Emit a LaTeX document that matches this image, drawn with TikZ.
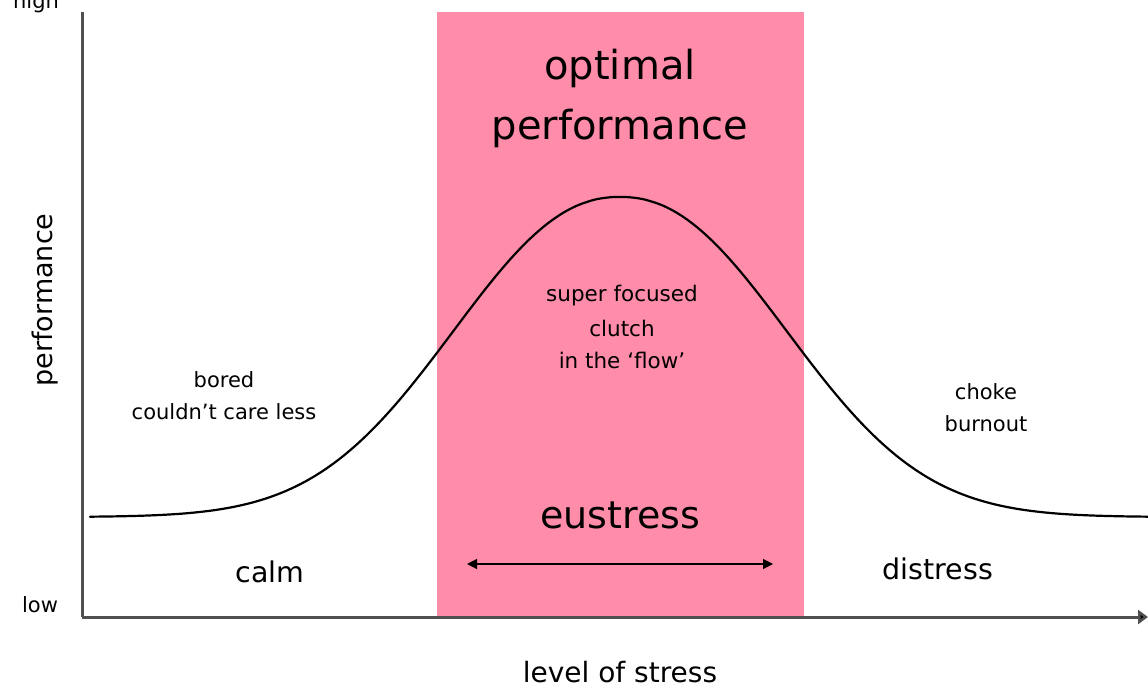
\documentclass[tikz,border=0pt]{standalone}
\usepackage{fontspec}
\setmainfont{DejaVu Sans}
\usetikzlibrary{arrows.meta}
\definecolor{zone}{RGB}{255,140,168}
\definecolor{axisgray}{RGB}{80,80,80}
\tikzset{
  lbl/.style={font=\fontsize{#1}{#1}\selectfont, align=center, inner sep=0pt},
  axisline/.style={draw=axisgray, line width=3pt},
}
\begin{document}
\begin{tikzpicture}[x=1pt,y=-1pt]
\useasboundingbox (0,0) rectangle (1148,688);
% optimal zone
\fill[zone] (437,12) rectangle (804,617);
% curve
\draw[line width=2.2pt, black, line cap=round] plot[domain=90:1148, samples=201, smooth] (\x, {517-320*exp(-((abs(\x-620)+0.01)/220)^2.2)});
% axes
\coordinate (O) at (82,617);
\coordinate (top) at (82,12);
\coordinate (xend) at (1148,617);
\draw[axisline] (top) -- (O);
\draw[axisline, -{Triangle[length=10pt,width=14pt,fill=black]}] (O) -- (xend);
% double arrow
\coordinate (al) at (467,564);
\coordinate (ar) at (773,564);
\draw[line width=1.2pt, {Triangle[length=10pt,width=10pt]}-{Triangle[length=10pt,width=10pt]}] (al) -- (ar);
% texts
\node[lbl=40] (opt) at (620,68) {optimal};
\node[lbl=40] (perf) at (620,128) {performance};
\node[lbl=21.5] (sf) at (622,296) {super focused};
\node[lbl=21.5] (cl) at (622,328) {clutch};
\node[lbl=21.5] (fl) at (622,360) {in the `flow'};
\node[lbl=21] (bo) at (224,380) {bored};
\node[lbl=21] (cc) at (224,412) {couldn't care less};
\node[lbl=21] (ch) at (986,392) {choke};
\node[lbl=21] (bu) at (986,424) {burnout};
\node[lbl=38] (eu) at (620,515) {eustress};
\node[lbl=28.5] (calm) at (270,572) {calm};
\node[lbl=28.5] (dis) at (938,569) {distress};
\node[lbl=21] (low) at (40,605) {low};
\node[lbl=21] (high) at (36,3) {high};
\node[lbl=27, rotate=90] (yl) at (45,300) {performance};
\node[lbl=28] (xl) at (620,672) {level of stress};
\end{tikzpicture}
\end{document}
